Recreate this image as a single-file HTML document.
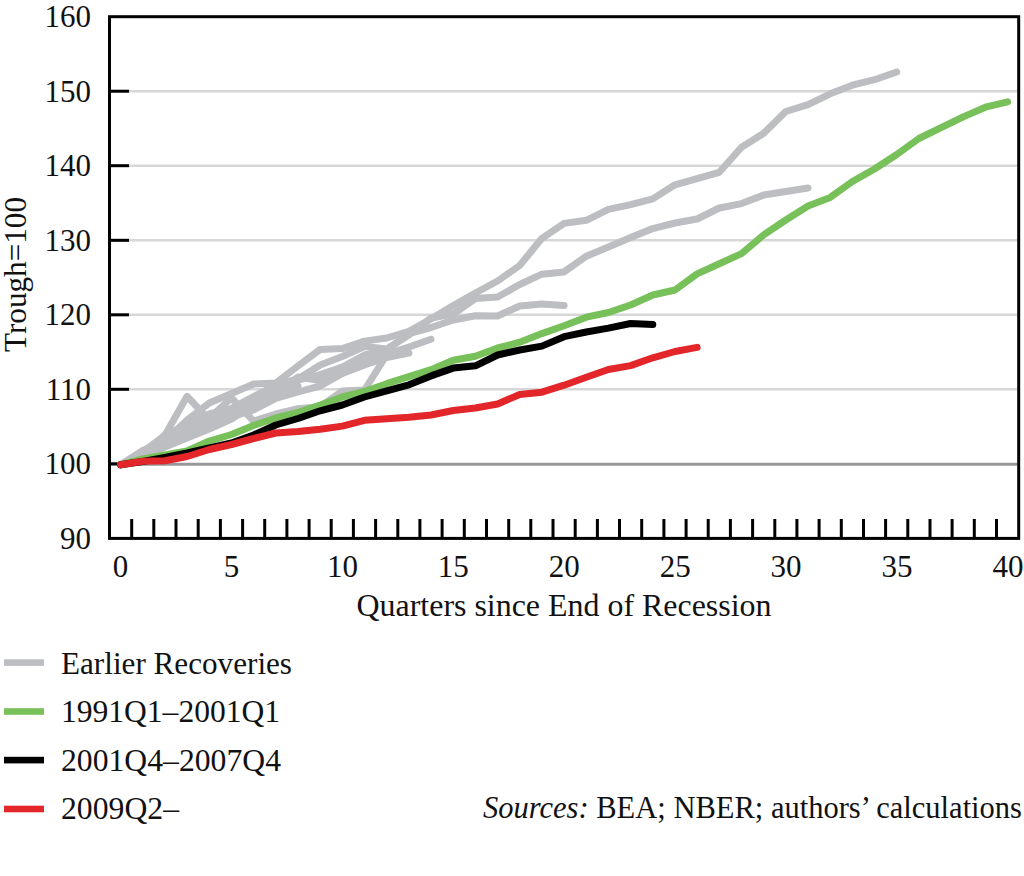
<!DOCTYPE html>
<html><head><meta charset="utf-8"><style>
html,body{margin:0;padding:0;background:#fff;width:1024px;height:876px;overflow:hidden}
svg{display:block}
.t{font-family:"Liberation Serif",serif;font-size:31px;fill:#111}
</style></head><body>
<svg width="1024" height="876" viewBox="0 0 1024 876">
<line x1="111" y1="91.2" x2="1017.5" y2="91.2" stroke="#d7d7d7" stroke-width="2.5"/>
<line x1="111" y1="165.7" x2="1017.5" y2="165.7" stroke="#d7d7d7" stroke-width="2.5"/>
<line x1="111" y1="240.3" x2="1017.5" y2="240.3" stroke="#d7d7d7" stroke-width="2.5"/>
<line x1="111" y1="314.8" x2="1017.5" y2="314.8" stroke="#d7d7d7" stroke-width="2.5"/>
<line x1="111" y1="389.3" x2="1017.5" y2="389.3" stroke="#d7d7d7" stroke-width="2.5"/>
<line x1="111" y1="464.2" x2="1017.5" y2="464.2" stroke="#979797" stroke-width="3"/>
<line x1="110" y1="91.2" x2="129" y2="91.2" stroke="#000" stroke-width="3"/>
<line x1="110" y1="165.7" x2="129" y2="165.7" stroke="#000" stroke-width="3"/>
<line x1="110" y1="240.3" x2="129" y2="240.3" stroke="#000" stroke-width="3"/>
<line x1="110" y1="314.8" x2="129" y2="314.8" stroke="#000" stroke-width="3"/>
<line x1="110" y1="389.3" x2="129" y2="389.3" stroke="#000" stroke-width="3"/>
<line x1="110" y1="463.8" x2="129" y2="463.8" stroke="#000" stroke-width="3"/>
<line x1="131.7" y1="519" x2="131.7" y2="538" stroke="#000" stroke-width="3"/>
<line x1="153.8" y1="519" x2="153.8" y2="538" stroke="#000" stroke-width="3"/>
<line x1="176.0" y1="519" x2="176.0" y2="538" stroke="#000" stroke-width="3"/>
<line x1="198.2" y1="519" x2="198.2" y2="538" stroke="#000" stroke-width="3"/>
<line x1="220.4" y1="519" x2="220.4" y2="538" stroke="#000" stroke-width="3"/>
<line x1="242.6" y1="519" x2="242.6" y2="538" stroke="#000" stroke-width="3"/>
<line x1="264.7" y1="519" x2="264.7" y2="538" stroke="#000" stroke-width="3"/>
<line x1="286.9" y1="519" x2="286.9" y2="538" stroke="#000" stroke-width="3"/>
<line x1="309.1" y1="519" x2="309.1" y2="538" stroke="#000" stroke-width="3"/>
<line x1="331.2" y1="519" x2="331.2" y2="538" stroke="#000" stroke-width="3"/>
<line x1="353.4" y1="519" x2="353.4" y2="538" stroke="#000" stroke-width="3"/>
<line x1="375.6" y1="519" x2="375.6" y2="538" stroke="#000" stroke-width="3"/>
<line x1="397.8" y1="519" x2="397.8" y2="538" stroke="#000" stroke-width="3"/>
<line x1="419.9" y1="519" x2="419.9" y2="538" stroke="#000" stroke-width="3"/>
<line x1="442.1" y1="519" x2="442.1" y2="538" stroke="#000" stroke-width="3"/>
<line x1="464.3" y1="519" x2="464.3" y2="538" stroke="#000" stroke-width="3"/>
<line x1="486.5" y1="519" x2="486.5" y2="538" stroke="#000" stroke-width="3"/>
<line x1="508.7" y1="519" x2="508.7" y2="538" stroke="#000" stroke-width="3"/>
<line x1="530.8" y1="519" x2="530.8" y2="538" stroke="#000" stroke-width="3"/>
<line x1="553.0" y1="519" x2="553.0" y2="538" stroke="#000" stroke-width="3"/>
<line x1="575.2" y1="519" x2="575.2" y2="538" stroke="#000" stroke-width="3"/>
<line x1="597.4" y1="519" x2="597.4" y2="538" stroke="#000" stroke-width="3"/>
<line x1="619.5" y1="519" x2="619.5" y2="538" stroke="#000" stroke-width="3"/>
<line x1="641.7" y1="519" x2="641.7" y2="538" stroke="#000" stroke-width="3"/>
<line x1="663.9" y1="519" x2="663.9" y2="538" stroke="#000" stroke-width="3"/>
<line x1="686.1" y1="519" x2="686.1" y2="538" stroke="#000" stroke-width="3"/>
<line x1="708.2" y1="519" x2="708.2" y2="538" stroke="#000" stroke-width="3"/>
<line x1="730.4" y1="519" x2="730.4" y2="538" stroke="#000" stroke-width="3"/>
<line x1="752.6" y1="519" x2="752.6" y2="538" stroke="#000" stroke-width="3"/>
<line x1="774.8" y1="519" x2="774.8" y2="538" stroke="#000" stroke-width="3"/>
<line x1="796.9" y1="519" x2="796.9" y2="538" stroke="#000" stroke-width="3"/>
<line x1="819.1" y1="519" x2="819.1" y2="538" stroke="#000" stroke-width="3"/>
<line x1="841.3" y1="519" x2="841.3" y2="538" stroke="#000" stroke-width="3"/>
<line x1="863.5" y1="519" x2="863.5" y2="538" stroke="#000" stroke-width="3"/>
<line x1="885.6" y1="519" x2="885.6" y2="538" stroke="#000" stroke-width="3"/>
<line x1="907.8" y1="519" x2="907.8" y2="538" stroke="#000" stroke-width="3"/>
<line x1="930.0" y1="519" x2="930.0" y2="538" stroke="#000" stroke-width="3"/>
<line x1="952.1" y1="519" x2="952.1" y2="538" stroke="#000" stroke-width="3"/>
<line x1="974.3" y1="519" x2="974.3" y2="538" stroke="#000" stroke-width="3"/>
<line x1="996.5" y1="519" x2="996.5" y2="538" stroke="#000" stroke-width="3"/>
<polyline points="120.6,464.7 142.8,450.5 164.9,441.0 187.1,420.0 209.3,403.0 231.5,393.5 253.6,384.0 275.8,383.0 298.0,366.0 320.2,349.4 342.3,348.6 364.5,341.1 386.7,338.0 408.9,331.4 431.0,319.0 453.2,305.5 475.4,293.0 497.6,281.0 519.7,265.5 541.9,238.3 564.1,223.4 586.3,220.3 608.4,209.4 630.6,204.7 652.8,198.9 675.0,184.8 697.1,178.6 719.3,172.3 741.5,147.3 763.7,133.3 785.8,111.5 808.0,104.7 830.2,93.8 852.4,85.2 874.5,79.7 896.7,72.0" fill="none" stroke="#bdbec1" stroke-width="7" stroke-linejoin="round" stroke-linecap="round"/>
<polyline points="120.6,464.7 142.8,455.0 164.9,435.0 187.1,425.0 209.3,414.0 231.5,408.4 253.6,396.7 275.8,385.0 298.0,379.0 320.2,365.0 342.3,356.5 364.5,346.5 386.7,349.0 408.9,335.0 431.0,318.0 453.2,314.0 475.4,298.6 497.6,297.0 519.7,284.5 541.9,274.2 564.1,271.9 586.3,256.2 608.4,246.9 630.6,237.5 652.8,228.6 675.0,223.0 697.1,219.0 719.3,208.0 741.5,203.6 763.7,195.0 785.8,191.5 808.0,188.0" fill="none" stroke="#bdbec1" stroke-width="7" stroke-linejoin="round" stroke-linecap="round"/>
<polyline points="120.6,464.7 142.8,457.0 164.9,446.0 187.1,434.0 209.3,422.0 231.5,412.0 253.6,404.0 275.8,392.0 298.0,380.0 320.2,374.6 342.3,367.0 364.5,355.0 386.7,350.0 408.9,333.5 431.0,327.5 453.2,320.0 475.4,315.7 497.6,316.0 519.7,306.0 541.9,304.0 564.1,305.5" fill="none" stroke="#bdbec1" stroke-width="7" stroke-linejoin="round" stroke-linecap="round"/>
<polyline points="120.6,464.7 142.8,457.0 164.9,447.0 187.1,438.0 209.3,429.0 231.5,419.0 253.6,404.0 275.8,394.0 298.0,377.0 320.2,380.5 342.3,372.0 364.5,362.0 386.7,354.0 408.9,347.0 431.0,339.3" fill="none" stroke="#bdbec1" stroke-width="7" stroke-linejoin="round" stroke-linecap="round"/>
<polyline points="120.6,464.7 142.8,456.0 164.9,446.0 187.1,437.0 209.3,428.0 231.5,417.0 253.6,410.0 275.8,398.5 298.0,392.0 320.2,386.0 342.3,373.5 364.5,365.0 386.7,357.5 408.9,353.0" fill="none" stroke="#bdbec1" stroke-width="7" stroke-linejoin="round" stroke-linecap="round"/>
<polyline points="120.6,464.7 142.8,452.0 164.9,435.3 187.1,396.3 209.3,420.0" fill="none" stroke="#bdbec1" stroke-width="7" stroke-linejoin="round" stroke-linecap="round"/>
<polyline points="120.6,464.7 142.8,454.0 164.9,440.0 187.1,428.0 209.3,418.0 231.5,398.0 253.6,421.0 275.8,414.0 298.0,408.7 320.2,406.7 342.3,391.0 364.5,390.0 386.7,354.8" fill="none" stroke="#bdbec1" stroke-width="7" stroke-linejoin="round" stroke-linecap="round"/>
<polyline points="120.6,464.7 142.8,455.0 164.9,443.0 187.1,428.0 209.3,418.0 231.5,412.0 253.6,404.0 275.8,392.0 298.0,386.0" fill="none" stroke="#bdbec1" stroke-width="7" stroke-linejoin="round" stroke-linecap="round"/>
<polyline points="120.6,464.7 142.8,459.0 164.9,455.0 187.1,451.0 209.3,441.0 231.5,434.5 253.6,425.5 275.8,418.0 298.0,412.5 320.2,405.0 342.3,397.0 364.5,391.5 386.7,383.7 408.9,376.7 431.0,369.6 453.2,360.2 475.4,356.3 497.6,348.0 519.7,342.2 541.9,333.6 564.1,325.8 586.3,317.2 608.4,312.5 630.6,305.0 652.8,295.0 675.0,290.0 697.1,273.9 719.3,263.8 741.5,253.6 763.7,234.8 785.8,220.0 808.0,206.0 830.2,197.4 852.4,181.5 874.5,169.0 896.7,154.5 918.9,138.5 941.1,127.6 963.2,116.9 985.4,107.2 1007.6,101.8" fill="none" stroke="#77c05a" stroke-width="7" stroke-linejoin="round" stroke-linecap="round"/>
<polyline points="120.6,464.7 142.8,461.5 164.9,457.4 187.1,453.0 209.3,448.0 231.5,443.0 253.6,435.0 275.8,425.0 298.0,418.5 320.2,410.8 342.3,405.0 364.5,397.0 386.7,390.8 408.9,384.8 431.0,375.9 453.2,368.1 475.4,365.8 497.6,355.0 519.7,350.0 541.9,346.1 564.1,336.7 586.3,332.0 608.4,328.1 630.6,323.5 652.8,324.6" fill="none" stroke="#000" stroke-width="7" stroke-linejoin="round" stroke-linecap="round"/>
<polyline points="120.6,464.7 142.8,461.3 164.9,460.8 187.1,456.5 209.3,449.5 231.5,444.5 253.6,438.5 275.8,433.0 298.0,431.5 320.2,429.2 342.3,426.1 364.5,420.3 386.7,418.8 408.9,417.2 431.0,415.0 453.2,410.5 475.4,408.0 497.6,404.0 519.7,394.5 541.9,392.2 564.1,385.2 586.3,377.3 608.4,369.5 630.6,365.6 652.8,357.8 675.0,351.5 697.1,347.4" fill="none" stroke="#e2262a" stroke-width="7" stroke-linejoin="round" stroke-linecap="round"/>
<rect x="109.5" y="16.7" width="909.2" height="521.7" fill="none" stroke="#000" stroke-width="3"/>
<text x="91" y="27.0" text-anchor="end" class="t">160</text>
<text x="91" y="101.5" text-anchor="end" class="t">150</text>
<text x="91" y="176.0" text-anchor="end" class="t">140</text>
<text x="91" y="250.6" text-anchor="end" class="t">130</text>
<text x="91" y="325.1" text-anchor="end" class="t">120</text>
<text x="91" y="399.6" text-anchor="end" class="t">110</text>
<text x="91" y="474.1" text-anchor="end" class="t">100</text>
<text x="91" y="548.6" text-anchor="end" class="t">90</text>
<text x="120.6" y="577" text-anchor="middle" class="t">0</text>
<text x="231.5" y="577" text-anchor="middle" class="t">5</text>
<text x="342.4" y="577" text-anchor="middle" class="t">10</text>
<text x="453.3" y="577" text-anchor="middle" class="t">15</text>
<text x="564.2" y="577" text-anchor="middle" class="t">20</text>
<text x="675.2" y="577" text-anchor="middle" class="t">25</text>
<text x="786.1" y="577" text-anchor="middle" class="t">30</text>
<text x="897.0" y="577" text-anchor="middle" class="t">35</text>
<text x="1007.9" y="577" text-anchor="middle" class="t">40</text>
<text x="356.5" y="616.4" textLength="415" lengthAdjust="spacingAndGlyphs" class="t">Quarters since End of Recession</text>
<text transform="translate(26,352) rotate(-90)" textLength="155" lengthAdjust="spacingAndGlyphs" class="t">Trough=100</text>
<rect x="4" y="659.3" width="40" height="6.6" fill="#bdbec1"/>
<text x="61" y="674" textLength="231" lengthAdjust="spacingAndGlyphs" class="t">Earlier Recoveries</text>
<rect x="4" y="708.2" width="40" height="6.6" fill="#77c05a"/>
<text x="61" y="721.6" textLength="219" lengthAdjust="spacingAndGlyphs" class="t">1991Q1–2001Q1</text>
<rect x="4" y="756.8" width="40" height="6.6" fill="#000"/>
<text x="61" y="770.6" textLength="220" lengthAdjust="spacingAndGlyphs" class="t">2001Q4–2007Q4</text>
<rect x="4" y="805.7" width="40" height="6.6" fill="#e2262a"/>
<text x="61" y="818.9" textLength="118" lengthAdjust="spacingAndGlyphs" class="t">2009Q2–</text>
<text x="483" y="818" textLength="539" lengthAdjust="spacingAndGlyphs" class="t"><tspan font-style="italic">Sources:</tspan> BEA; NBER; authors’ calculations</text>
</svg></body></html>
